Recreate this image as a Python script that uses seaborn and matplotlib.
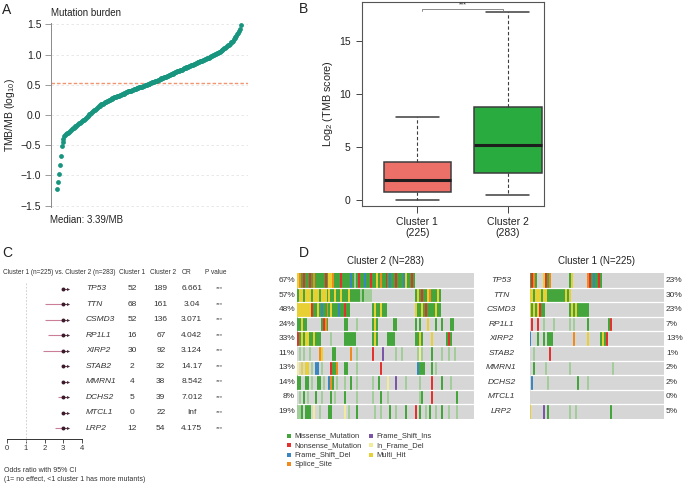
import numpy as np
import pandas as pd
import matplotlib
matplotlib.use('Agg')
import matplotlib.pyplot as plt
import seaborn as sns
from matplotlib.colors import ListedColormap

sns.set_theme(style='white')
plt.rcParams['font.family'] = ['Liberation Sans', 'DejaVu Sans']
plt.rcParams['mathtext.fontset'] = 'custom'
plt.rcParams['mathtext.rm'] = 'Liberation Sans'
plt.rcParams['mathtext.it'] = 'Liberation Sans:italic'

# ---------------- 数据 ----------------
# A: 每个样本的 log10(TMB/MB)，已排序（从曲线读取）
tmb_log10 = [
    -1.23, -1.10, -0.97, -0.83, -0.67, -0.52, -0.44, -0.39, -0.35, -0.33,
    -0.31, -0.30, -0.29, -0.28, -0.27, -0.25, -0.23, -0.22, -0.21, -0.20,
    -0.19, -0.18, -0.17, -0.155, -0.14, -0.13, -0.115, -0.10, -0.09, -0.075,
    -0.06, -0.05, -0.035, -0.02, -0.01, 0.01, 0.02, 0.04, 0.05, 0.065,
    0.08, 0.09, 0.105, 0.12, 0.13, 0.145, 0.155, 0.165, 0.175, 0.18,
    0.19, 0.20, 0.21, 0.22, 0.225, 0.235, 0.24, 0.25, 0.26, 0.265,
    0.275, 0.28, 0.29, 0.295, 0.30, 0.31, 0.315, 0.32, 0.33, 0.335,
    0.34, 0.35, 0.355, 0.36, 0.37, 0.375, 0.38, 0.39, 0.395, 0.40,
    0.405, 0.41, 0.42, 0.425, 0.43, 0.435, 0.44, 0.445, 0.45, 0.455,
    0.46, 0.465, 0.47, 0.475, 0.48, 0.49, 0.495, 0.50, 0.505, 0.51,
    0.515, 0.525, 0.53, 0.54, 0.545, 0.55, 0.56, 0.565, 0.57, 0.58,
    0.585, 0.59, 0.60, 0.605, 0.61, 0.62, 0.625, 0.63, 0.635, 0.645,
    0.65, 0.66, 0.665, 0.67, 0.68, 0.685, 0.69, 0.70, 0.705, 0.71,
    0.72, 0.725, 0.73, 0.74, 0.745, 0.75, 0.76, 0.77, 0.775, 0.78,
    0.79, 0.795, 0.80, 0.81, 0.815, 0.82, 0.83, 0.835, 0.84, 0.85,
    0.855, 0.86, 0.87, 0.875, 0.88, 0.89, 0.895, 0.90, 0.91, 0.915,
    0.92, 0.93, 0.935, 0.94, 0.95, 0.955, 0.96, 0.97, 0.98, 0.99,
    1.00, 1.005, 1.01, 1.02, 1.03, 1.04, 1.05, 1.06, 1.07, 1.08,
    1.09, 1.10, 1.11, 1.125, 1.14, 1.15, 1.165, 1.18, 1.20, 1.215,
    1.23, 1.25, 1.27, 1.29, 1.31, 1.335, 1.36, 1.39, 1.43, 1.49,
]
median_tmb = 3.39

# B: 箱线图五数（下须, Q1, 中位数, Q3, 上须）
box_labels = ['Cluster 1\n(225)', 'Cluster 2\n(283)']
c1_box = [0.0, 0.79, 1.89, 3.65, 7.86]
c2_box = [0.47, 2.61, 5.25, 8.77, 17.74]
box_colors = ['#ec7068', '#2aab3f']

# C: 森林图
genes = ['TP53', 'TTN', 'CSMD3', 'RP1L1', 'XIRP2', 'STAB2', 'MMRN1', 'DCHS2', 'MTCL1', 'LRP2']
n_c1 = [52, 68, 52, 16, 30, 2, 4, 5, 0, 12]
n_c2 = [189, 161, 136, 67, 92, 32, 38, 39, 22, 54]
or_text = ['6.661', '3.04', '3.071', '4.042', '3.124', '14.17', '8.542', '7.012', 'Inf', '4.175']
ci_low = [4.3, 2.0, 2.0, 2.2, 1.9, 3.4, 3.1, 2.7, 3.6, 2.55]
p_text = ['***'] * 10

# D: oncoplot
pct_c2 = ['67%', '57%', '48%', '24%', '33%', '11%', '13%', '14%', '8%', '19%']
pct_c1 = ['23%', '30%', '23%', '7%', '13%', '1%', '2%', '2%', '0%', '5%']
mut_codes = ['.', 'M', 'g', 'N', 'D', 'S', 'I', 'i', 'H']
mut_colors = ['#d6d6d6', '#44a53c', '#a2cd9b', '#e3312f', '#3a86c0',
              '#f08a1c', '#7b55a6', '#f3eb9c', '#e8cf34']
legend_names = ['Missense_Mutation', 'Nonsense_Mutation', 'Frame_Shift_Del', 'Splice_Site',
                'Frame_Shift_Ins', 'In_Frame_Del', 'Multi_Hit']
legend_codes = ['M', 'N', 'D', 'S', 'I', 'i', 'H']

# 每行: (起始分箱, 突变编码串)；Cluster 2 共 90 箱，Cluster 1 共 68 箱
n_bins_c2, n_bins_c1 = 90, 68
onco_c2 = [
    [(0, 'HSMNMMNMSMMMMMNMHHSMMMNMMMMDMgMNMMDMMNMMHMSMMNMDMMNMMMDHMMNM')],
    [(0, 'MHHMHHHMHHHMHHHMHMMHMMHMMMHMMMMMgMgggg'), (60, 'MHMNMMHSMMMHM')],
    [(0, 'HHHHHHHNMMHMDMMSMHMMMDMMNMM'), (38, 'MHMMHMMM'), (60, 'HMMHMNMMMMHMM')],
    [(0, 'MMHMM'), (12, 'MNSM'), (24, 'MM'), (30, 'g'), (38, 'MHM'), (49, 'MM'),
     (60, 'M'), (62, 'M'), (66, 'H'), (70, 'M'), (73, 'M'), (78, 'MM')],
    [(0, 'NMHMHHMMHMMM'), (17, 'g'), (24, 'MMMMMM'), (38, 'MHM'), (46, 'MMMM'),
     (60, 'MMHM'), (68, 'H'), (76, 'MNM')],
    [(1, 'g'), (3, 'g'), (6, 'g'), (11, 'SH'), (18, 'MM'), (27, 'S'), (30, 'g'), (38, 'N'),
     (43, 'I'), (50, 'g'), (53, 'g'), (61, 'gig'), (68, 'M'), (73, 'g'), (77, 'g'), (80, 'g')],
    [(0, 'i'), (2, 'H'), (4, 'HH'), (7, 'g'), (9, 'DD'), (12, 'g'), (17, 'NMMS'), (24, 'MM'),
     (30, 'g'), (42, 'N'), (61, 'DMMM'), (68, 'M'), (70, 'g')],
    [(0, 'MM'), (4, 'MM'), (7, 'g'), (10, 'MM'), (13, 'g'), (16, 'DSM'), (20, 'g'), (24, 'g'),
     (27, 'M'), (30, 'g'), (38, 'g'), (41, 'M'), (46, 'i'), (50, 'I'), (55, 'g'), (62, 'g'),
     (68, 'N'), (73, 'M'), (78, 'g')],
    [(1, 'g'), (3, 'M'), (5, 'g'), (9, 'M'), (12, 'g'), (17, 'M'), (19, 'g'), (24, 'M'),
     (30, 'g'), (38, 'g'), (42, 'M'), (46, 'g'), (62, 'gM'), (68, 'N'), (81, 'M')],
    [(0, 'ggM'), (4, 'MMM'), (8, 'i'), (11, 'g'), (16, 'MM'), (24, 'i'), (26, 'g'), (30, 'M'),
     (39, 'g'), (42, 'g'), (47, 'M'), (50, 'g'), (55, 'M'), (60, 'N'), (62, 'M'), (65, 'g'),
     (67, 'M'), (70, 'g'), (73, 'M'), (77, 'g'), (81, 'g')],
]
onco_c1 = [
    [(0, 'MNSM'), (7, 'HNMS'), (20, 'MH'), (29, 'SNMDMMNM')],
    [(0, 'HHMHHHMHHMMMMMMMMMHMH')],
    [(0, 'HMHMHNMM'), (20, 'MHMHMMMMMM')],
    [(1, 'N'), (4, 'N'), (7, 'g'), (12, 'g'), (20, 'g'), (22, 'g'), (29, 'M'), (40, 'MN')],
    [(0, 'D'), (4, 'M'), (7, 'M'), (9, 'MMM'), (22, 'S'), (29, 'H'), (36, 'MHMN')],
    [(2, 'g'), (10, 'N')],
    [(2, 'M'), (8, 'g'), (20, 'g'), (42, 'g')],
    [(1, 'D'), (9, 'g'), (24, 'M'), (29, 'g')],
    [],
    [(0, 'H'), (7, 'I'), (9, 'M'), (20, 'g'), (23, 'g'), (41, 'M')],
]


def build_matrix(rows, n_bins):
    mat = np.zeros((len(rows), n_bins), dtype=int)
    for r, segs in enumerate(rows):
        for start, s in segs:
            for k, ch in enumerate(s):
                mat[r, start + k] = mut_codes.index(ch)
    return mat


# ---------------- 画布 ----------------
W, H = 683, 486
fig = plt.figure(figsize=(W / 100, H / 100), dpi=100)


def px_axes(x0, y0, x1, y1):
    return fig.add_axes([x0 / W, 1 - y1 / H, (x1 - x0) / W, (y1 - y0) / H])


ov = px_axes(0, 0, W, H)
ov.set_xlim(0, W)
ov.set_ylim(H, 0)
ov.axis('off')

# ---------------- A ----------------
ax_a = px_axes(51, 23, 248, 207)
sns.scatterplot(x=np.arange(len(tmb_log10)), y=tmb_log10, color='#17957f', s=12,
                linewidth=0, ax=ax_a, zorder=3)
ax_a.axhline(np.log10(median_tmb), color='#f2946f', lw=1.0, ls=(0, (2.5, 1.5)), zorder=2)
ax_a.set_ylim(-1.5215, 1.5215)
ax_a.set_xlim(-6.5, 206.6)
ax_a.set_yticks([1.5, 1.0, 0.5, 0.0, -0.5, -1.0, -1.5])
ax_a.set_xticks([])
ax_a.yaxis.grid(True, ls=(0, (3, 3)), color='#e4e4e4', lw=0.6)
for s in ['top', 'right', 'bottom']:
    ax_a.spines[s].set_visible(False)
ax_a.spines['left'].set_color('#8a8a8a')
ax_a.spines['left'].set_linewidth(0.7)
ax_a.tick_params(axis='y', left=True, length=4, width=0.6, color='#8a8a8a',
                 labelsize=7.5, pad=3, labelcolor='#222')
ax_a.set_ylabel('TMB/MB (log$_{10}$)', fontsize=7.5, labelpad=3, color='#222')
ax_a.set_xlabel('')
ov.text(51, 13.5, 'Mutation burden', fontsize=7, va='center', ha='left', color='#222')
ov.text(50, 220, 'Median: 3.39/MB', fontsize=7, va='center', ha='left', color='#222')

# ---------------- B ----------------
df_b = pd.DataFrame({
    'cluster': [box_labels[0]] * len(c1_box) + [box_labels[1]] * len(c2_box),
    'tmb': c1_box + c2_box,
})
ax_b = px_axes(362.3, 1.7, 544.3, 205.7)
sns.boxplot(data=df_b, x='cluster', y='tmb', hue='cluster', palette=box_colors,
            saturation=1, legend=False, width=0.75, showfliers=False, linecolor='#3d3d3d',
            linewidth=1.1, whiskerprops={'linestyle': (0, (3, 2)), 'linewidth': 0.8},
            medianprops={'color': '#1e1e1e', 'linewidth': 2.2},
            capwidths=0.47, ax=ax_b)
ax_b.set_xlim(-0.61, 1.405)
ax_b.set_ylim(-0.51, 18.73)
ax_b.set_yticks([0, 5, 10, 15])
for s in ax_b.spines.values():
    s.set_visible(True)
    s.set_color('#555')
    s.set_linewidth(0.8)
ax_b.tick_params(axis='y', left=True, length=4.5, width=0.7, color='#444',
                 labelsize=7.5, pad=4, labelcolor='#222')
ax_b.tick_params(axis='x', bottom=True, length=5, width=0.7, color='#444',
                 labelsize=7.5, pad=3, labelcolor='#222')
ax_b.set_xlabel('')
ax_b.set_ylabel('Log$_2$ (TMB score)', fontsize=7.8, labelpad=3, color='#222')
ax_b.plot([0.05, 0.05, 0.95, 0.95], [17.86, 18.02, 18.02, 17.86], color='#777', lw=0.6)
ax_b.text(0.5, 18.12, '***', fontsize=5, ha='center', va='bottom', color='#333')

# ---------------- C ----------------
ax_c = px_axes(7.3, 267, 81.7, 439)
ax_c.set_xlim(0, 4)
ax_c.set_ylim(-0.69, 10.4)
ypos = np.arange(len(genes))[::-1]
or_val = np.array([float(v) for v in or_text])
x_dot = np.minimum(or_val, 3)
lo = np.minimum(np.array(ci_low), x_dot)
ax_c.plot([1, 1], [9.35, -1.08], ls=(0, (2, 2)), color='#c8c8c8', lw=0.6, clip_on=False)
ax_c.hlines(ypos, lo, x_dot, color='#c97f98', lw=0.8)
ax_c.hlines(ypos, x_dot, 3.2, color='#4a2535', lw=0.6)
sns.scatterplot(x=x_dot, y=ypos, color='#3b1b2b', s=8, linewidth=0, ax=ax_c, zorder=3)
ax_c.scatter(np.full(len(genes), 3.27), ypos, marker='>', s=5, color='#4a2535',
             linewidth=0, zorder=3)
for i, g in enumerate(genes):
    y = ypos[i]
    ax_c.text(4.23, y, g, style='italic', fontsize=6, va='center', ha='left', color='#333', clip_on=False)
    ax_c.text(6.7, y, str(n_c1[i]), fontsize=6, va='center', ha='center', color='#333', clip_on=False)
    ax_c.text(8.25, y, str(n_c2[i]), fontsize=6, va='center', ha='center', color='#333', clip_on=False)
    ax_c.text(9.91, y, or_text[i], fontsize=6, va='center', ha='center', color='#333', clip_on=False)
    ax_c.text(11.42, y, p_text[i], fontsize=4.5, va='center', ha='center', color='#555', clip_on=False)
hy = 10.03
ax_c.text(-0.23, hy, 'Cluster 1 (n=225) vs. Cluster 2 (n=283)', fontsize=4.7, va='center', ha='left', color='#333', clip_on=False)
ax_c.text(6.7, hy, 'Cluster 1', fontsize=4.7, va='center', ha='center', color='#333', clip_on=False)
ax_c.text(8.37, hy, 'Cluster 2', fontsize=4.7, va='center', ha='center', color='#333', clip_on=False)
ax_c.text(9.66, hy, 'OR', fontsize=4.7, va='center', ha='center', color='#333', clip_on=False)
ax_c.text(11.2, hy, 'P value', fontsize=4.7, va='center', ha='center', color='#333', clip_on=False)
ax_c.set_xticks([0, 1, 2, 3, 4])
ax_c.set_yticks([])
for s in ['top', 'right', 'left']:
    ax_c.spines[s].set_visible(False)
ax_c.spines['bottom'].set_color('#333')
ax_c.spines['bottom'].set_linewidth(0.7)
ax_c.tick_params(axis='x', bottom=True, length=3, width=0.6, color='#333',
                 labelsize=5.5, pad=1.5, labelcolor='#333')
ax_c.set_xlabel('')
ov.text(4, 470, 'Odds ratio with 95% CI', fontsize=5, va='center', ha='left', color='#333')
ov.text(4, 479, '(1= no effect, <1 cluster 1 has more mutants)', fontsize=5, va='center', ha='left', color='#333')

# ---------------- D ----------------
cmap = ListedColormap(mut_colors)
top, bot = 273.4, 418.6
for rows, nb, (x0, x1) in [(onco_c2, n_bins_c2, (297, 474)), (onco_c1, n_bins_c1, (529.5, 663.5))]:
    ax = px_axes(x0, top, x1, bot)
    sns.heatmap(build_matrix(rows, nb), cmap=cmap, vmin=-0.5, vmax=len(mut_codes) - 0.5,
                cbar=False, xticklabels=False, yticklabels=False, ax=ax)
    ax.hlines(np.arange(1, len(genes)), 0, nb, color='white', lw=0.9)
    ax.tick_params(left=False, bottom=False)

row_h = (bot - top) / len(genes)
for i, g in enumerate(genes):
    yc = top + (i + 0.5) * row_h
    ov.text(501.5, yc, g, style='italic', fontsize=6, ha='center', va='center', color='#333')
    ov.text(295, yc, pct_c2[i], fontsize=6, ha='right', va='center', color='#333')
    ov.text(666, yc, pct_c1[i], fontsize=6, ha='left', va='center', color='#333')
ov.text(385.5, 261, 'Cluster 2 (N=283)', fontsize=7, ha='center', va='center', color='#222')
ov.text(596.5, 261, 'Cluster 1 (N=225)', fontsize=7, ha='center', va='center', color='#222')

leg_x = [288.7, 371]
leg_y = [435.7, 445.3, 454.7, 464.3]
for k, (name, code) in enumerate(zip(legend_names, legend_codes)):
    col, row = divmod(k, 4)
    ov.scatter(leg_x[col], leg_y[row], marker='s', s=5, linewidth=0,
               color=mut_colors[mut_codes.index(code)])
    ov.text(leg_x[col] + 5.5, leg_y[row], name, fontsize=5.4, ha='left', va='center', color='#333')

# 面板字母
for lab, x, y in [('A', 2, 10.5), ('B', 299, 9), ('C', 2, 252.5), ('D', 299, 252.5)]:
    ov.text(x, y, lab, fontsize=10, ha='left', va='center', color='#222')

fig.savefig('out.png', dpi=100)
